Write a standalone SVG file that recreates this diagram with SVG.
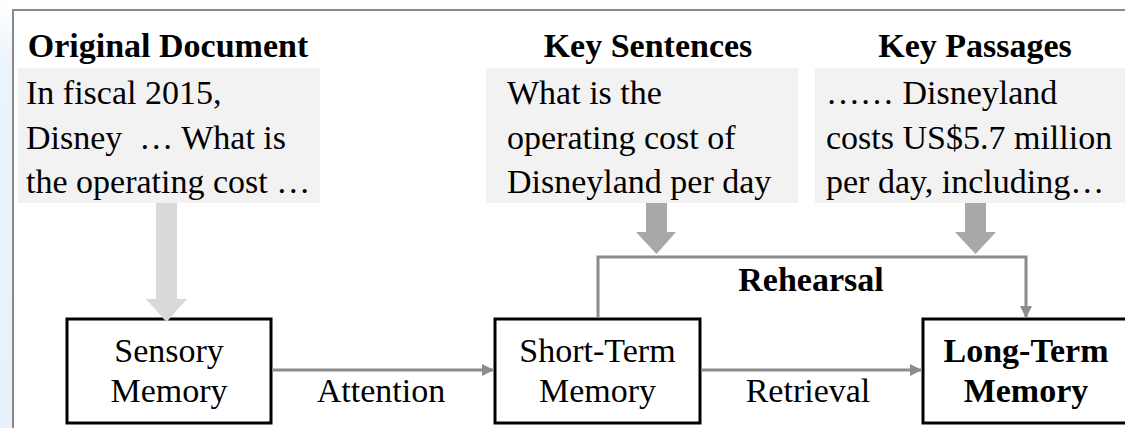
<svg xmlns="http://www.w3.org/2000/svg" width="1125" height="428" viewBox="0 0 1125 428">
  <defs>
    <linearGradient id="strip" x1="0" y1="0" x2="0" y2="1">
      <stop offset="0" stop-color="#ffffff"/>
      <stop offset="0.15" stop-color="#ebf3fb"/>
      <stop offset="1" stop-color="#e8f1fa"/>
    </linearGradient>
    <marker id="ah" markerWidth="12" markerHeight="12" refX="10" refY="5" orient="auto" markerUnits="userSpaceOnUse" viewBox="0 0 10 10">
      <path d="M0,0 L10,5 L0,10 z" fill="#8c8c8c"/>
    </marker>
    <style>
      text { font-family: "Liberation Serif", "Times New Roman", serif; font-size: 34px; fill: #000; }
      .title { font-weight: bold; text-anchor: middle; }
      .bold { font-weight: bold; }
      .mid { text-anchor: middle; }
      .doc { fill: #f2f2f2; }
      .node { fill: #ffffff; stroke: #000; stroke-width: 3; }
      .conn { fill: none; stroke: #8c8c8c; stroke-width: 3; }
      .pre { white-space: pre; }
    </style>
  </defs>
  <rect x="0" y="0" width="1125" height="428" fill="#ffffff"/>
  <rect x="0" y="0" width="12" height="428" fill="url(#strip)"/>
  <path d="M13,430 L13,10 L1127,10" fill="none" stroke="#8a8a8a" stroke-width="2"/>

  <g id="original-document">
    <text class="title" x="168" y="57">Original Document</text>
    <rect class="doc" x="18" y="68" width="302" height="135"/>
    <text x="26" y="104">In fiscal 2015,</text>
    <text class="pre" x="26" y="149">Disney  … What is</text>
    <text x="26" y="193">the operating cost …</text>
  </g>

  <g id="key-sentences">
    <text class="title" x="648" y="57">Key Sentences</text>
    <rect class="doc" x="486" y="68" width="312" height="135"/>
    <text x="507" y="104">What is the</text>
    <text x="507" y="149">operating cost of</text>
    <text x="507" y="193">Disneyland per day</text>
  </g>

  <g id="key-passages">
    <text class="title" x="975" y="57">Key Passages</text>
    <rect class="doc" x="815" y="68" width="312" height="135"/>
    <text x="826" y="104">…… Disneyland</text>
    <text x="826" y="149">costs US$5.7 million</text>
    <text x="826" y="193">per day, including…</text>
  </g>

  <g id="sensory-memory">
    <rect class="node" x="67" y="319" width="204" height="104"/>
    <text class="mid" x="169" y="362">Sensory</text>
    <text class="mid" x="169" y="402">Memory</text>
  </g>

  <g id="short-term-memory">
    <rect class="node" x="495" y="319" width="205" height="104"/>
    <text class="mid" x="597.5" y="362">Short-Term</text>
    <text class="mid" x="597.5" y="402">Memory</text>
  </g>

  <g id="long-term-memory">
    <rect class="node" x="923" y="319" width="205" height="104"/>
    <text class="mid bold" x="1026" y="362">Long-Term</text>
    <text class="mid bold" x="1026" y="402">Memory</text>
  </g>

  <g id="connectors">
    <polygon points="156,203 177,203 177,299 187,299 166.5,322 146,299 156,299" fill="#d9d9d9"/>
    <polygon points="646,203 667,203 667,232 676,232 656.5,254 636,232 646,232" fill="#a9a7a7"/>
    <polygon points="965,203 986,203 986,232 996,232 975.5,254 955,232 965,232" fill="#a9a7a7"/>
    <line class="conn" x1="272" y1="370" x2="494" y2="370" marker-end="url(#ah)"/>
    <line class="conn" x1="701" y1="370" x2="922" y2="370" marker-end="url(#ah)"/>
    <polyline class="conn" points="598,318 598,257 1026,257 1026,318" marker-end="url(#ah)"/>
    <text class="mid" x="381" y="402">Attention</text>
    <text class="mid" x="808" y="402">Retrieval</text>
    <text class="mid bold" x="811" y="291">Rehearsal</text>
  </g>
</svg>
